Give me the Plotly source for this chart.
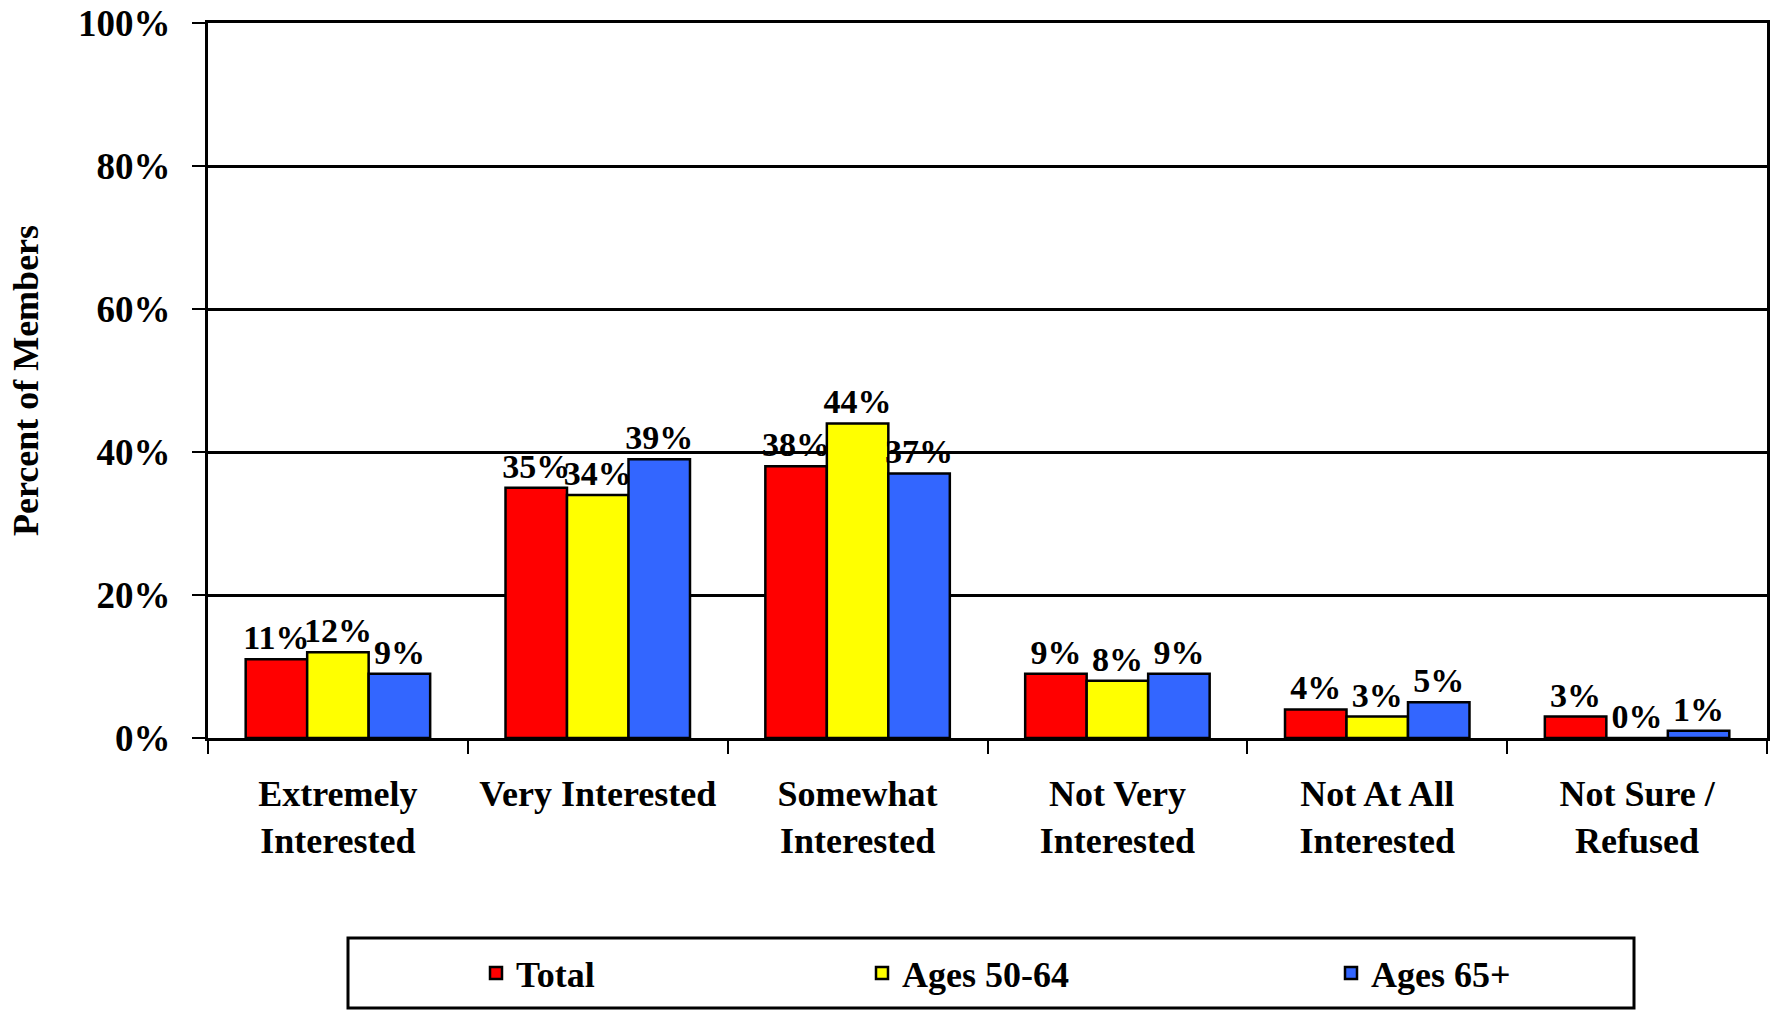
import plotly.graph_objects as go

categories = ["Extremely<br>Interested", "Very Interested", "Somewhat<br>Interested",
              "Not Very<br>Interested", "Not At All<br>Interested", "Not Sure /<br>Refused"]
series_names = ["Total", "Ages 50-64", "Ages 65+"]
total = [11, 35, 38, 9, 4, 3]
ages_50_64 = [12, 34, 44, 8, 3, 0]
ages_65_plus = [9, 39, 37, 9, 5, 1]
y_tick_values = [0, 20, 40, 60, 80, 100]
y_tick_labels = ["0%", "20%", "40%", "60%", "80%", "100%"]

colors = ["#FF0000", "#FFFF00", "#3366FF"]
FONT = "Liberation Serif, Times New Roman, serif"

fig = go.Figure()
legend_ids = ["legend", "legend2", "legend3"]
for name, vals, col, lg in zip(series_names, [total, ages_50_64, ages_65_plus], colors, legend_ids):
    fig.add_trace(go.Bar(
        x=categories, y=vals, name=name, legend=lg,
        marker=dict(color=col, line=dict(color="black", width=2.5)),
        text=[f"{v}%" for v in vals], textposition="outside",
        textfont=dict(family=FONT, size=34, color="black", weight="bold"),
        constraintext="none", cliponaxis=False,
    ))

W, H = 1775, 1013
ml, mr, mt, mb = 208, 8, 23, 275
pw = W - ml - mr
ph = H - mt - mb

def px_x(x):
    return (x - ml) / pw

def px_y(y):
    return (H - mb - y) / ph

legend_common = dict(orientation="h", bgcolor="rgba(0,0,0,0)", borderwidth=0,
                     font=dict(family=FONT, size=36, color="black", weight="bold"),
                     xanchor="left", yanchor="middle", itemclick=False)

fig.update_layout(
    width=W, height=H,
    margin=dict(l=ml, r=mr, t=mt, b=mb, autoexpand=False),
    paper_bgcolor="white", plot_bgcolor="white",
    barmode="group", bargap=0.29, bargroupgap=0,
    font=dict(family=FONT, color="black"),
    showlegend=True,
    legend=dict(x=px_x(476), y=px_y(973), **legend_common),
    legend2=dict(x=px_x(862), y=px_y(973), **legend_common),
    legend3=dict(x=px_x(1331), y=px_y(973), **legend_common),
    shapes=[dict(type="rect", xref="paper", yref="paper",
                 x0=px_x(348), x1=px_x(1634), y0=px_y(1008), y1=px_y(938),
                 line=dict(color="black", width=3), fillcolor="rgba(0,0,0,0)")],
)

fig.update_xaxes(
    type="category", showline=True, linecolor="black", linewidth=3, mirror=True,
    ticks="outside", tickson="boundaries", ticklen=13, tickwidth=2, tickcolor="black",
    tickfont=dict(family=FONT, size=36, color="black", weight="bold"),
    ticklabelstandoff=22, showgrid=False, automargin=False,
)
fig.update_yaxes(
    range=[0, 100], tickvals=y_tick_values, ticktext=y_tick_labels,
    showline=True, linecolor="black", linewidth=3, mirror=True,
    ticks="outside", ticklen=13, tickwidth=2, tickcolor="black",
    tickfont=dict(family=FONT, size=37, color="black", weight="bold"),
    ticklabelstandoff=14, ticklabeloverflow="allow", automargin=False,
    showgrid=True, gridcolor="black", gridwidth=2.5,
    title=dict(text="Percent of Members", font=dict(family=FONT, size=36, color="black", weight="bold"), standoff=29),
)

fig.write_html("out.html", config={"displayModeBar": False},
               post_script="document.body.style.margin='0';document.body.style.overflow='hidden';")
